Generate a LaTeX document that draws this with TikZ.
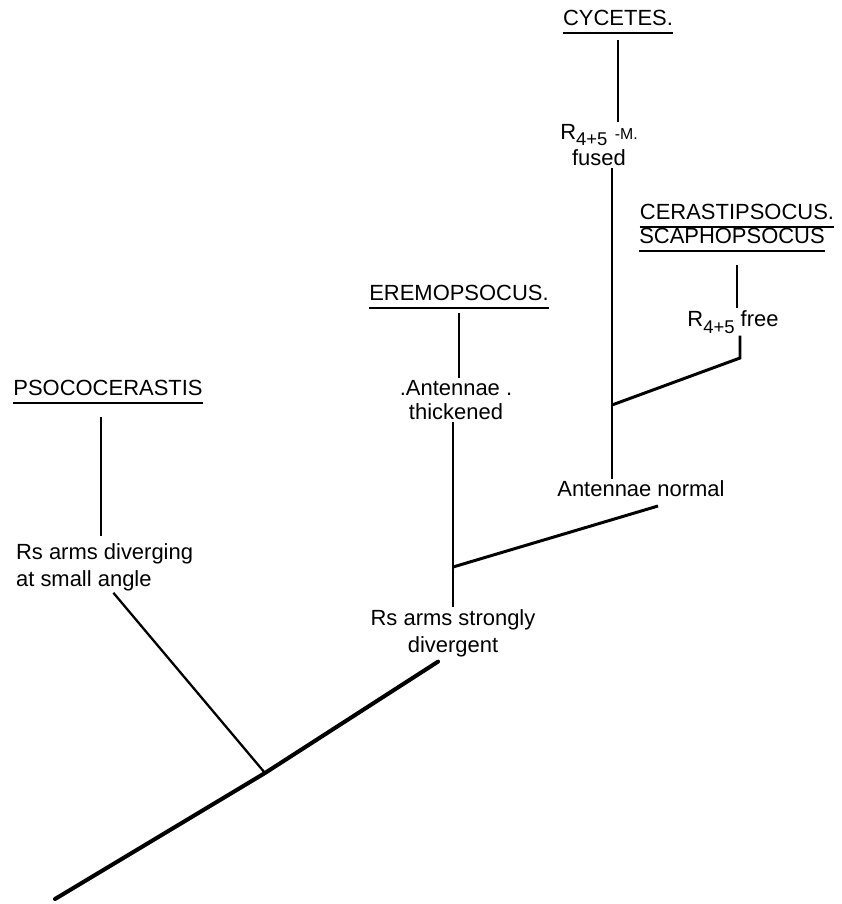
\documentclass[tikz,border=0pt]{standalone}
\usepackage{fontspec}
\setmainfont{Liberation Sans}
\newcommand{\lowidx}[1]{\raisebox{-0.6ex}{\fontsize{10.5}{12}\selectfont #1}}
\begin{document}
\begin{tikzpicture}[
    x=0.02cm, y=-0.02cm,
    taxon/.style={inner xsep=0pt, inner ysep=4pt, text depth=0pt, font=\fontsize{12.5}{15}\selectfont},
    trait/.style={inner sep=1pt, align=center, font=\fontsize{12.5}{15.3}\selectfont},
    rule/.style={line width=1.1pt},
    branch/.style={line width=1.7pt},
    twig/.style={line width=1.3pt},
    trunk/.style={line width=2.3pt, line cap=round}
  ]
    \useasboundingbox (0,0) rectangle (842,904);

    % junctions
    \coordinate (root) at (55,899);
    \coordinate (j1) at (265,773);
    \coordinate (j2) at (453,567);
    \coordinate (j3) at (612,405);
    \coordinate (hook) at (740,358);
    \coordinate (nend) at (658,506);

    % taxa
    \node[taxon] (psoco) at (108,388) {PSOCOCERASTIS};
    \node[taxon] (erem) at (459,293) {EREMOPSOCUS.};
    \node[taxon] (cyc) at (618,18) {CYCETES.};
    \node[taxon] (cera) at (737,212) {CERASTIPSOCUS.};
    \node[taxon] (scapho) at (732,236) {SCAPHOPSOCUS};

    % characters
    \node[trait, align=left, anchor=west] (rsdiv) at (14,567) {Rs arms diverging\\at small angle};
    \node[trait] (rsstrong) at (453,633) {Rs arms strongly\\divergent};
    \node[trait, font=\fontsize{12.5}{13.6}\selectfont] (antthick) at (456,400) {.Antennae .\\thickened};
    \node[trait] (antnorm) at (641,489) {Antennae normal};
    \node[trait] (fused) at (599,145) {R\lowidx{4+5}\,\,{\fontsize{9}{10}\selectfont -M.}\\fused};
    \node[trait] (free) at (733,322) {R\lowidx{4+5} free};

    % underlines
    \foreach \t in {psoco, erem, cyc, cera, scapho}
      \draw[rule] (\t.south west) -- (\t.south east);

    % tree
    \draw[trunk, shorten >=3pt] (root) -- (j1) -- ([xshift=-6pt]rsstrong.south);
    \draw[twig] (j1) -- ([xshift=5pt]rsdiv.south);
    \draw[twig, shorten <=8pt, shorten >=3pt] ([xshift=-4pt]psoco.south) -- ([xshift=-4pt]psoco.south |- rsdiv.north);

    \draw[branch, shorten <=3pt] (erem.south) -- (erem.south |- antthick.north);
    \draw[branch] (j2 |- antthick.south) -- (j2 |- rsstrong.north);
    \draw[branch] (j2) -- (nend);

    \draw[branch, shorten <=4pt] (cyc.south) -- (cyc.south |- fused.north);
    \draw[branch] (j3 |- fused.south) -- (j3 |- antnorm.north);
    \draw[branch] (j3) -- (hook) -- (hook |- free.south);
    \draw[branch, shorten <=8pt] (scapho.south -| cera) -- (cera |- free.north);
  \end{tikzpicture}
\end{document}
